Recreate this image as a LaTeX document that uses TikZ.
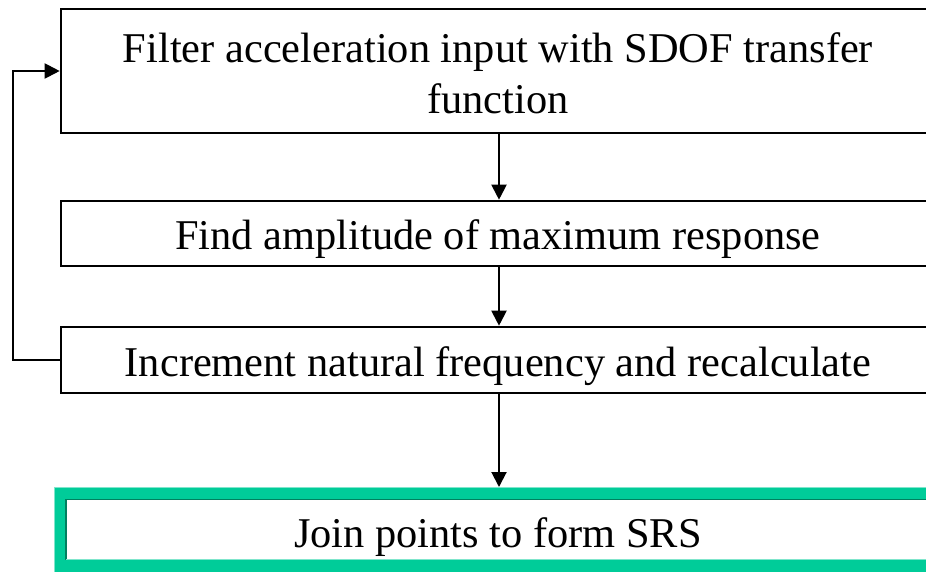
\documentclass[tikz,border=0pt]{standalone}
\usepackage{fontspec}
\setmainfont{Liberation Serif}
\usetikzlibrary{arrows.meta}

\definecolor{srsgreen}{HTML}{00CC99}
\definecolor{srsdark}{HTML}{00805F}
\definecolor{srslight}{HTML}{7FE6CC}

\begin{document}
\begin{tikzpicture}[x=1pt,y=-1pt,
  stagebox/.style={draw=black,line width=2.6pt,fill=white,rectangle,
    minimum width=874pt,inner sep=0pt},
  finalbox/.style={draw=srsgreen,line width=13pt,fill=white,rectangle,
    minimum width=876pt,minimum height=72pt,inner sep=0pt},
  label/.style={font=\fontsize{42.4}{50}\selectfont,anchor=base,inner sep=0pt},
  flow/.style={line width=2pt,-{Triangle[length=15pt,width=15pt]}},
  loopline/.style={line width=2pt,-{Triangle[length=15pt,width=15pt]}}]
  \useasboundingbox (0,0) rectangle (926,573);
  \clip (0,0) rectangle (926,573);

  % process boxes
  \node[stagebox,minimum height=124pt] (b1) at (498,71) {};
  \node[stagebox,minimum height=65pt] (b2) at (498,233.5) {};
  \node[stagebox,minimum height=66pt] (b3) at (498,360) {};
  \node[finalbox] (b4) at (498,529.5) {};

  % bevel edges on the green frame
  \draw[srslight,line width=1.2pt] ([xshift=0.6pt]b4.south west) |- ([yshift=-0.6pt]b4.north east);
  \draw[srsdark,line width=1.2pt] ([xshift=12.4pt,yshift=12.4pt]b4.south west) |- ([xshift=-12.4pt,yshift=-12.4pt]b4.north east);
  \draw[srslight,line width=1.2pt] ([xshift=12.4pt,yshift=12.4pt]b4.south west) -- ([xshift=-12.4pt,yshift=12.4pt]b4.south east);

  % box texts
  \node[label] (t1a) at (498,62) {Filter acceleration input with SDOF transfer};
  \node[label] (t1b) at (498,113) {function};
  \node[label] (t2) at (498,249) {Find amplitude of maximum response};
  \node[label] (t3) at (498,376) {Increment natural frequency and recalculate};
  \node[label] (t4) at (498,547) {Join points to form SRS};

  % connectors
  \draw[flow] (b1.south -| 499,0) -- (b2.north -| 499,0);
  \draw[flow] (b2.south -| 499,0) -- (b3.north -| 499,0);
  \draw[flow] (b3.south -| 499,0) -- (b4.north -| 499,0);
  \coordinate (lp) at (13,0);
  \draw[loopline] (b3.west) -- (b3.west -| lp) |- (b1.west);
\end{tikzpicture}
\end{document}
